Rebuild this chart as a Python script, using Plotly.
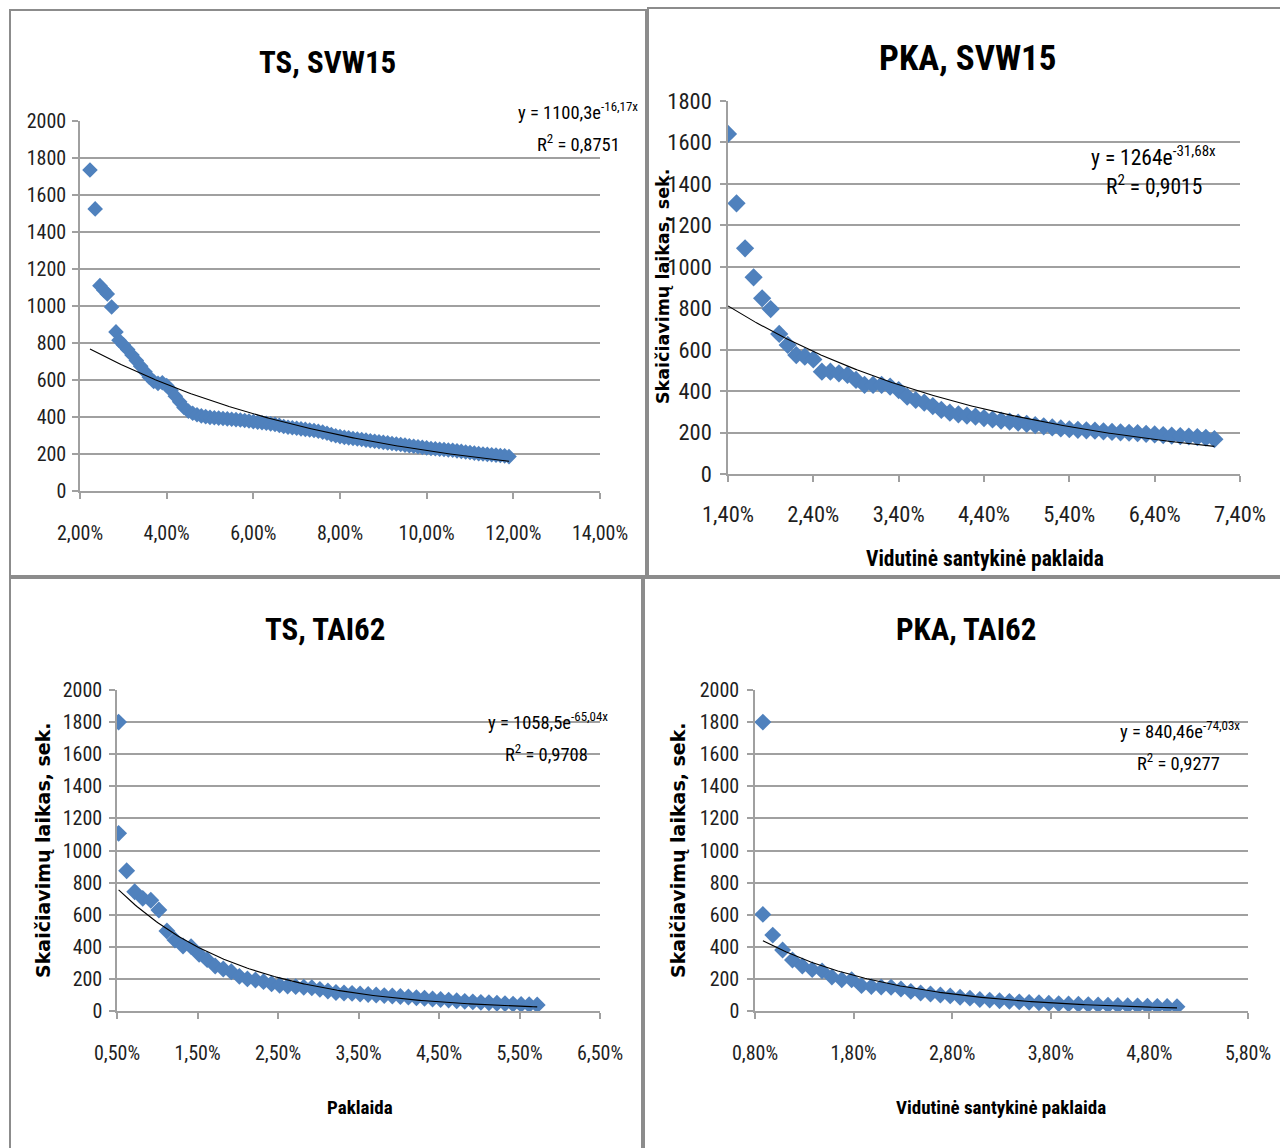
import numpy as np
import plotly.graph_objects as go

W, H = 1280, 1148

# ---------------- TS, SVW15 ----------------
ts_svw15_err_pct = [
    2.23, 2.35, 2.46, 2.55, 2.63, 2.73, 2.83,
    2.9, 3.0, 3.1, 3.2, 3.3, 3.4, 3.5, 3.6, 3.7, 3.8,
    3.9, 4.0, 4.1, 4.2, 4.3, 4.4, 4.5, 4.6, 4.7, 4.8,
    4.9, 5.0, 5.1, 5.2, 5.3, 5.4, 5.5, 5.6, 5.7, 5.8,
    5.9, 6.0, 6.1, 6.2, 6.3, 6.4, 6.5, 6.6, 6.7, 6.8,
    6.9, 7.0, 7.1, 7.2, 7.3, 7.4, 7.5, 7.6, 7.7, 7.8,
    7.9, 8.0, 8.1, 8.2, 8.3, 8.4, 8.5, 8.6, 8.7, 8.8,
    8.9, 9.0, 9.1, 9.2, 9.3, 9.4, 9.5, 9.6, 9.7, 9.8,
    9.9, 10.0, 10.1, 10.2, 10.3, 10.4, 10.5, 10.6, 10.7, 10.8,
    10.9, 11.0, 11.1, 11.2, 11.3, 11.4, 11.5, 11.6, 11.7, 11.8,
    11.9,
]
ts_svw15_time = [
    1735, 1525, 1110, 1085, 1065, 995, 860,
    815, 790, 765, 735, 705, 675, 645, 615, 592, 582,
    585, 570, 545, 512, 482, 452, 432, 420, 412, 406,
    402, 398, 396, 394, 392, 390, 388, 386, 384, 381,
    378, 375, 372, 369, 366, 363, 360, 355, 349, 345,
    342, 339, 336, 333, 330, 327, 323, 318, 312, 305,
    299, 294, 290, 287, 284, 281, 278, 275, 272, 269,
    266, 263, 260, 257, 254, 251, 248, 245, 242, 239,
    236, 233, 230, 228, 226, 224, 222, 220, 217, 214,
    211, 208, 205, 202, 200, 198, 196, 194, 192, 190,
    186,
]
ts_svw15_fit = (1100.3, -16.17)

# ---------------- PKA, SVW15 ----------------
pka_svw15_err_pct = [
    1.4, 1.5, 1.6, 1.7, 1.8, 1.9, 2.0, 2.1, 2.2, 2.3,
    2.4, 2.5, 2.6, 2.7, 2.8, 2.9, 3.0, 3.1, 3.2, 3.3,
    3.4, 3.5, 3.6, 3.7, 3.8, 3.9, 4.0, 4.1, 4.2, 4.3,
    4.4, 4.5, 4.6, 4.7, 4.8, 4.9, 5.0, 5.1, 5.2, 5.3,
    5.4, 5.5, 5.6, 5.7, 5.8, 5.9, 6.0, 6.1, 6.2, 6.3,
    6.4, 6.5, 6.6, 6.7, 6.8, 6.9, 7.0, 7.1,
]
pka_svw15_time = [
    1641, 1306, 1089, 949, 848, 796, 676, 623, 574, 566,
    553, 494, 494, 486, 478, 454, 430, 430, 430, 422,
    405, 373, 357, 344, 328, 309, 296, 288, 282, 277,
    270, 263, 258, 253, 248, 242, 236, 230, 225, 220,
    216, 213, 211, 209, 206, 203, 201, 199, 197, 194,
    191, 188, 185, 183, 181, 178, 175, 168,
]
pka_svw15_fit = (1264.0, -31.68)

# ---------------- TS, TAI62 ----------------
ts_tai62_err_pct = [
    0.52, 0.52, 0.62, 0.72, 0.82, 0.92, 1.02, 1.12, 1.22, 1.32,
    1.42, 1.52, 1.62, 1.72, 1.82, 1.92, 2.02, 2.12, 2.22, 2.32,
    2.42, 2.52, 2.62, 2.72, 2.82, 2.92, 3.02, 3.12, 3.22, 3.32,
    3.42, 3.52, 3.62, 3.72, 3.82, 3.92, 4.02, 4.12, 4.22, 4.32,
    4.42, 4.52, 4.62, 4.72, 4.82, 4.92, 5.02, 5.12, 5.22, 5.32,
    5.42, 5.52, 5.62, 5.72,
]
ts_tai62_time = [
    1800, 1107, 874, 743, 702, 690, 629, 498, 442, 405,
    401, 353, 320, 280, 262, 245, 216, 200, 193, 183,
    170, 160, 155, 152, 148, 145, 135, 125, 115, 112,
    110, 106, 103, 100, 96, 93, 90, 87, 83, 79,
    75, 72, 68, 64, 60, 57, 54, 51, 48, 46,
    43, 41, 39, 37,
]
ts_tai62_fit = (1058.5, -65.04)

# ---------------- PKA, TAI62 ----------------
pka_tai62_err_pct = [
    0.88, 0.88, 0.98, 1.08, 1.18, 1.28, 1.38, 1.48, 1.58, 1.68,
    1.78, 1.88, 1.98, 2.08, 2.18, 2.28, 2.38, 2.48, 2.58, 2.68,
    2.78, 2.88, 2.98, 3.08, 3.18, 3.28, 3.38, 3.48, 3.58, 3.68,
    3.78, 3.88, 3.98, 4.08, 4.18, 4.28, 4.38, 4.48, 4.58, 4.68,
    4.78, 4.88, 4.98, 5.08,
]
pka_tai62_time = [
    1800, 602, 473, 380, 318, 280, 258, 250, 212, 195,
    195, 158, 152, 150, 148, 137, 122, 112, 106, 100,
    94, 86, 80, 72, 68, 64, 60, 57, 54, 51,
    48, 46, 44, 42, 40, 38, 36, 35, 33, 32,
    30, 29, 28, 27,
]
pka_tai62_fit = (840.46, -74.03)

titles = ["TS, SVW15", "PKA, SVW15", "TS, TAI62", "PKA, TAI62"]
equations = [
    ("y = 1100,3e<sup>-16,17x</sup>", "R<sup>2</sup> = 0,8751"),
    ("y = 1264e<sup>-31,68x</sup>", "R<sup>2</sup> = 0,9015"),
    ("y = 1058,5e<sup>-65,04x</sup>", "R<sup>2</sup> = 0,9708"),
    ("y = 840,46e<sup>-74,03x</sup>", "R<sup>2</sup> = 0,9277"),
]
y_title = "Skaičiavimų laikas, sek."
x_title_full = "Vidutinė santykinė paklaida"
x_title_short = "Paklaida"

NARROW = "Liberation Sans Narrow, Arial Narrow, Roboto Condensed, sans-serif"
WIDE_BOLD = "DejaVu Sans, Verdana, sans-serif"
BLUE = "#4F81BD"
GRID = "#a0a0a0"
TEXT = "#1e1e1e"


def px_x(p):
    return p / W


def px_y(p):
    return 1 - p / H


# panel geometry in pixels: plot left/right, top/bottom, axis ranges
panels = [
    dict(err=ts_svw15_err_pct, t=ts_svw15_time, fit=ts_svw15_fit,
         box=(80, 600, 121, 491), xr=(0.02, 0.14), yr=(0, 2000), fs=20, ms=12,
         xstand=17, ystand=2),
    dict(err=pka_svw15_err_pct, t=pka_svw15_time, fit=pka_svw15_fit,
         box=(728, 1240, 101, 474), xr=(0.014, 0.074), yr=(0, 1800), fs=22.5, ms=14,
         xstand=13, ystand=4),
    dict(err=ts_tai62_err_pct, t=ts_tai62_time, fit=ts_tai62_fit,
         box=(117, 600, 690, 1011), xr=(0.005, 0.065), yr=(0, 2000), fs=20, ms=13,
         xstand=17, ystand=3),
    dict(err=pka_tai62_err_pct, t=pka_tai62_time, fit=pka_tai62_fit,
         box=(755, 1248, 690, 1011), xr=(0.008, 0.058), yr=(0, 2000), fs=20, ms=13,
         xstand=17, ystand=4),
]

fig = go.Figure()
layout_axes = {}

for i, p in enumerate(panels):
    k = "" if i == 0 else str(i + 1)
    xs = np.array(p["err"]) / 100.0
    ys = np.array(p["t"])
    a, b = p["fit"]

    fig.add_trace(go.Scatter(
        x=xs, y=ys, mode="markers", xaxis="x" + k, yaxis="y" + k,
        marker=dict(symbol="diamond", size=p["ms"], color=BLUE,
                    line=dict(width=0)),
        showlegend=False, hoverinfo="skip",
    ))
    # exponential trend line from the fitted equation
    xf = np.linspace(xs.min(), xs.max(), 200)
    fig.add_trace(go.Scatter(
        x=xf, y=a * np.exp(b * xf), mode="lines", xaxis="x" + k, yaxis="y" + k,
        line=dict(color="#000000", width=1.1), showlegend=False, hoverinfo="skip",
    ))

    x0, x1, y0, y1 = p["box"]
    layout_axes["xaxis" + k] = dict(
        domain=[px_x(x0), px_x(x1)], anchor="y" + k, range=list(p["xr"]),
        tick0=p["xr"][0], dtick=0.01 if i else 0.02, tickformat=".2%",
        showgrid=False, zeroline=False, showline=True, linecolor=GRID, linewidth=1.5,
        ticks="outside", ticklen=6, tickcolor=GRID, tickwidth=1.5,
        ticklabelstandoff=p["xstand"], automargin=False,
        tickfont=dict(family=NARROW, size=p["fs"], color=TEXT),
    )
    layout_axes["yaxis" + k] = dict(
        domain=[px_y(y1), px_y(y0)], anchor="x" + k, range=list(p["yr"]),
        tick0=0, dtick=200, tickformat="d",
        showgrid=True, gridcolor=GRID, gridwidth=1.5, zeroline=False,
        showline=True, linecolor=GRID, linewidth=1.5,
        ticks="outside", ticklen=6, tickcolor=GRID, tickwidth=1.5,
        ticklabelstandoff=p["ystand"], automargin=False,
        tickfont=dict(family=NARROW, size=p["fs"], color=TEXT),
    )

fig.update_layout(**layout_axes)

annotations = []


def text_at(txt, cx, cy, size, family=NARROW, bold=False, xanchor="center",
            angle=0):
    annotations.append(dict(
        text=txt, x=px_x(cx), y=px_y(cy), xref="paper", yref="paper",
        xanchor=xanchor, yanchor="middle", showarrow=False, textangle=angle,
        font=dict(family=family, size=size, color="#000000",
                  weight="bold" if bold else "normal"),
    ))


# chart titles
text_at(titles[0], 327, 62, 31, bold=True)
text_at(titles[1], 968, 58, 35, bold=True)
text_at(titles[2], 325, 629, 31, bold=True)
text_at(titles[3], 966, 629, 31, bold=True)

# trend-line equations and R²
eq_pos = [
    ((640, 111), (622, 143), 18.5),
    ((1218, 156), (1204, 185), 21.5),
    ((610, 721), (590, 753), 18.5),
    ((1242, 730), (1222, 762), 18.5),
]
for (eq, r2), ((ex, ey), (rx, ry), fs) in zip(equations, eq_pos):
    text_at(eq, ex, ey, fs, xanchor="right")
    text_at(r2, rx, ry, fs, xanchor="right")

# axis titles
text_at(x_title_full, 985, 558, 21.5, bold=True)
text_at(x_title_short, 360, 1107, 19, bold=True)
text_at(x_title_full, 1001, 1107, 19, bold=True)
text_at(y_title, 663, 287, 17.5, family=WIDE_BOLD, bold=True, angle=-90)
text_at(y_title, 43, 850, 19, family=WIDE_BOLD, bold=True, angle=-90)
text_at(y_title, 678, 850, 19, family=WIDE_BOLD, bold=True, angle=-90)

# panel frames
shapes = []
for (l, r, t, b) in [(10, 646, 10, 576), (648, 1282, 8, 576),
                     (10, 642, 578, 1150), (644, 1282, 578, 1150)]:
    shapes.append(dict(type="rect", xref="paper", yref="paper",
                       x0=px_x(l), x1=px_x(r), y0=px_y(b), y1=px_y(t),
                       line=dict(color="#8c8c8c", width=2), layer="below"))

fig.update_layout(
    width=W, height=H, margin=dict(l=0, r=0, t=0, b=0, autoexpand=False),
    paper_bgcolor="#ffffff", plot_bgcolor="#ffffff",
    separators=", ", annotations=annotations, shapes=shapes,
    showlegend=False,
)

fig.write_html("out.html")
